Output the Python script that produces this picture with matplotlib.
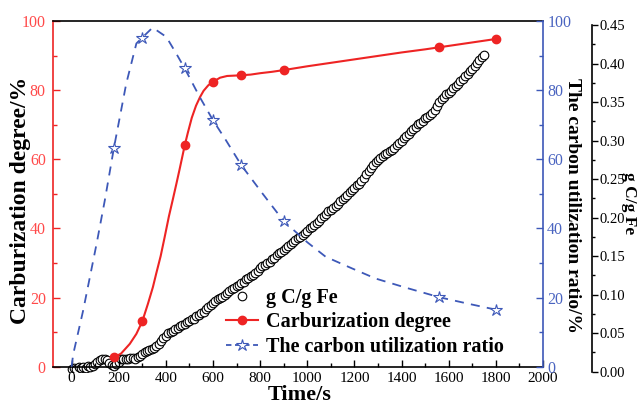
import numpy as np
import matplotlib
matplotlib.use('Agg')
import matplotlib.pyplot as plt
from matplotlib.ticker import MultipleLocator
from matplotlib.lines import Line2D

plt.rcParams['font.family'] = ['Liberation Serif', 'DejaVu Serif']

# 标记点数据
time_pts = [180, 300, 480, 600, 720, 900, 1560, 1800]
carb_degree = [2.7, 13.1, 64.0, 82.4, 84.3, 85.8, 92.4, 94.8]
util_ratio = [63.4, 95.2, 86.3, 71.3, 58.3, 42.1, 20.1, 16.5]

# 曲线轨迹
carb_curve_t = [180, 210, 247, 275, 300, 324, 345, 359, 378, 395, 413, 430, 445, 458, 470,
                480, 493, 510, 528, 545, 560, 580, 600, 630, 660, 690, 720, 760, 800, 850,
                900, 1000, 1100, 1200, 1300, 1400, 1500, 1560, 1650, 1720, 1800]
carb_curve_v = [2.7, 3.8, 6.6, 9.5, 13.1, 18.2, 23.0, 26.9, 32.0, 37.5, 43.5, 48.5, 53.0, 57.0, 60.8,
                64.0, 67.6, 72.0, 75.5, 78.0, 79.8, 81.4, 82.4, 83.6, 84.1, 84.2, 84.3, 84.5, 84.9, 85.3,
                85.8, 86.9, 87.9, 88.9, 89.9, 90.9, 91.8, 92.4, 93.3, 94.0, 94.8]

util_curve_t = [0, 7, 49, 106, 141, 180, 232, 275, 300, 344, 402, 444, 480, 543, 600, 655, 720,
                810, 900, 1000, 1078, 1191, 1290, 1416, 1560, 1684, 1800]
util_curve_v = [0.0, 3.6, 16.2, 35.5, 48.1, 63.4, 81.9, 93.5, 95.2, 98.1, 95.4, 90.6, 86.3, 78.1,
                71.3, 65.5, 58.3, 50.1, 42.1, 36.0, 31.8, 28.4, 25.5, 22.9, 20.1, 18.2, 16.5]

# g C/g Fe 散点，每10 s一个点
gc_time = np.arange(0, 1760, 10)
gc_value = [0.004, 0.005, 0.004, 0.006, 0.005, 0.006, 0.005, 0.007, 0.006, 0.008,
            0.010, 0.012, 0.015, 0.016, 0.017, 0.015, 0.011, 0.009, 0.008, 0.010,
            0.012, 0.016, 0.017, 0.016, 0.017, 0.018, 0.018, 0.017, 0.019, 0.021,
            0.023, 0.026, 0.027, 0.028, 0.030, 0.031, 0.033, 0.036, 0.040, 0.044,
            0.047, 0.050, 0.051, 0.053, 0.055, 0.057, 0.059, 0.061, 0.062, 0.064,
            0.066, 0.068, 0.069, 0.072, 0.074, 0.076, 0.078, 0.081, 0.084, 0.087,
            0.089, 0.092, 0.094, 0.096, 0.097, 0.099, 0.102, 0.105, 0.107, 0.109,
            0.111, 0.113, 0.115, 0.117, 0.120, 0.122, 0.124, 0.126, 0.128, 0.131,
            0.135, 0.137, 0.139, 0.141, 0.143, 0.146, 0.148, 0.151, 0.154, 0.156,
            0.158, 0.161, 0.163, 0.166, 0.168, 0.171, 0.173, 0.175, 0.178, 0.180,
            0.183, 0.186, 0.188, 0.191, 0.193, 0.196, 0.199, 0.202, 0.205, 0.208,
            0.210, 0.213, 0.215, 0.218, 0.221, 0.224, 0.227, 0.230, 0.233, 0.236,
            0.239, 0.242, 0.244, 0.248, 0.252, 0.256, 0.260, 0.264, 0.268, 0.272,
            0.275, 0.278, 0.280, 0.282, 0.284, 0.286, 0.288, 0.291, 0.294, 0.297,
            0.300, 0.303, 0.306, 0.309, 0.312, 0.315, 0.318, 0.321, 0.323, 0.326,
            0.329, 0.331, 0.333, 0.336, 0.340, 0.345, 0.350, 0.354, 0.357, 0.360,
            0.362, 0.365, 0.368, 0.371, 0.374, 0.377, 0.380, 0.384, 0.387, 0.390,
            0.393, 0.397, 0.401, 0.404, 0.408, 0.411]

RED = '#ee2424'
RED_TXT = '#ff4a4a'
BLUE = '#3d58b8'
BLUE_TXT = '#4a64c0'

fig = plt.figure(figsize=(6.38, 4.07), dpi=100)
fig.patch.set_facecolor('white')

# 第三个坐标轴（g C/g Fe），位置略微下移
ax3 = fig.add_axes([0.0826, 0.0867, 0.7685, 0.8518])
ax = fig.add_axes([0.0826, 0.099, 0.7685, 0.8494])
ax2 = ax.twinx()
for a, z in ((ax3, 1), (ax, 2), (ax2, 3)):
    a.set_zorder(z)
    a.patch.set_visible(False)

# 散点
ax3.plot(gc_time, gc_value, ls='none', marker='o', ms=6.2, mfc='white', mec='black', mew=0.8)
ax3.set_xlim(-80, 2000)
ax3.set_ylim(0, 0.45)
ax3.xaxis.set_visible(False)
for s in ('left', 'top', 'bottom'):
    ax3.spines[s].set_visible(False)
ax3.spines['right'].set_position(('axes', 1.1006))
ax3.spines['right'].set_linewidth(1.2)
ax3.yaxis.tick_right()
ax3.yaxis.set_major_locator(MultipleLocator(0.05))
ax3.yaxis.set_minor_locator(MultipleLocator(0.025))
ax3.yaxis.set_major_formatter(plt.FormatStrFormatter('%.2f'))
ax3.tick_params(axis='y', which='both', direction='out', labelsize=10.5, pad=1, width=1)
ax3.tick_params(axis='y', which='major', length=4)
ax3.tick_params(axis='y', which='minor', length=2.5)

# 渗碳度
ax.plot(carb_curve_t, carb_curve_v, color=RED, lw=1.5)
ax.plot(time_pts, carb_degree, ls='none', marker='o', ms=6, color=RED)
ax.set_xlim(-80, 2000)
ax.set_ylim(0, 100)
ax.xaxis.set_major_locator(MultipleLocator(200))
ax.xaxis.set_minor_locator(MultipleLocator(100))
ax.yaxis.set_major_locator(MultipleLocator(20))
ax.yaxis.set_minor_locator(MultipleLocator(10))
ax.tick_params(axis='x', which='both', direction='in', top=False, labelsize=11, pad=4, width=1)
ax.tick_params(axis='y', which='both', direction='in', colors=RED, labelcolor=RED_TXT,
               labelsize=11.5, pad=5, width=1)
ax.tick_params(which='major', length=5)
ax.tick_params(which='minor', length=3)
ax.spines['left'].set_color(RED)
ax.spines['right'].set_visible(False)
for s in ('left', 'top', 'bottom'):
    ax.spines[s].set_linewidth(1.2)

# 碳利用率
ax2.plot(util_curve_t, util_curve_v, color=BLUE, lw=1.3, ls=(0, (5, 4)))
ax2.plot(time_pts, util_ratio, ls='none', marker='*', ms=9, mfc='white', mec=BLUE, mew=0.8)
ax2.set_ylim(0, 100)
ax2.yaxis.set_major_locator(MultipleLocator(20))
ax2.yaxis.set_minor_locator(MultipleLocator(10))
ax2.tick_params(axis='y', which='both', direction='in', colors=BLUE, labelcolor=BLUE_TXT,
                labelsize=11.5, pad=3, width=1)
ax2.tick_params(which='major', length=5)
ax2.tick_params(which='minor', length=3)
for s in ('left', 'top', 'bottom'):
    ax2.spines[s].set_visible(False)
ax2.spines['right'].set_color(BLUE)
ax2.spines['right'].set_linewidth(1.2)

# 坐标轴标题
lab = dict(fontweight='bold', ha='center', va='center')
fig.text(21 / 638, 1 - 200 / 407, 'Carburization degree/%', rotation=90, fontsize=17, **lab)
fig.text(572 / 638, 1 - 205 / 407, 'The carbon utilization ratio/%', rotation=270, fontsize=14, **lab)
fig.text(629 / 638, 1 - 203 / 407, 'g C/g Fe', rotation=270, fontsize=12.5, **lab)
fig.text(300 / 638, 1 - 395 / 407, 'Time/s', fontsize=16, **lab)

# 图例
handles = [
    Line2D([], [], ls='none', marker='o', ms=6.2, mfc='white', mec='black', mew=0.8),
    Line2D([], [], color=RED, lw=1.5, marker='o', ms=6),
    Line2D([], [], color=BLUE, lw=1.3, ls=(0, (3, 2)), marker='*', ms=9, mfc='white', mec=BLUE, mew=0.8),
]
labels = ['g C/g Fe', 'Carburization degree', 'The carbon utilization ratio']
ax2.legend(handles, labels, loc='upper left', bbox_to_anchor=(226 / 638, 1 - 288 / 407),
           bbox_transform=fig.transFigure, frameon=False, borderpad=0, borderaxespad=0,
           handlelength=1.6, handletextpad=0.4, labelspacing=0.22,
           prop=dict(weight='bold', size=14.5))

fig.savefig('out.png', dpi=100)
